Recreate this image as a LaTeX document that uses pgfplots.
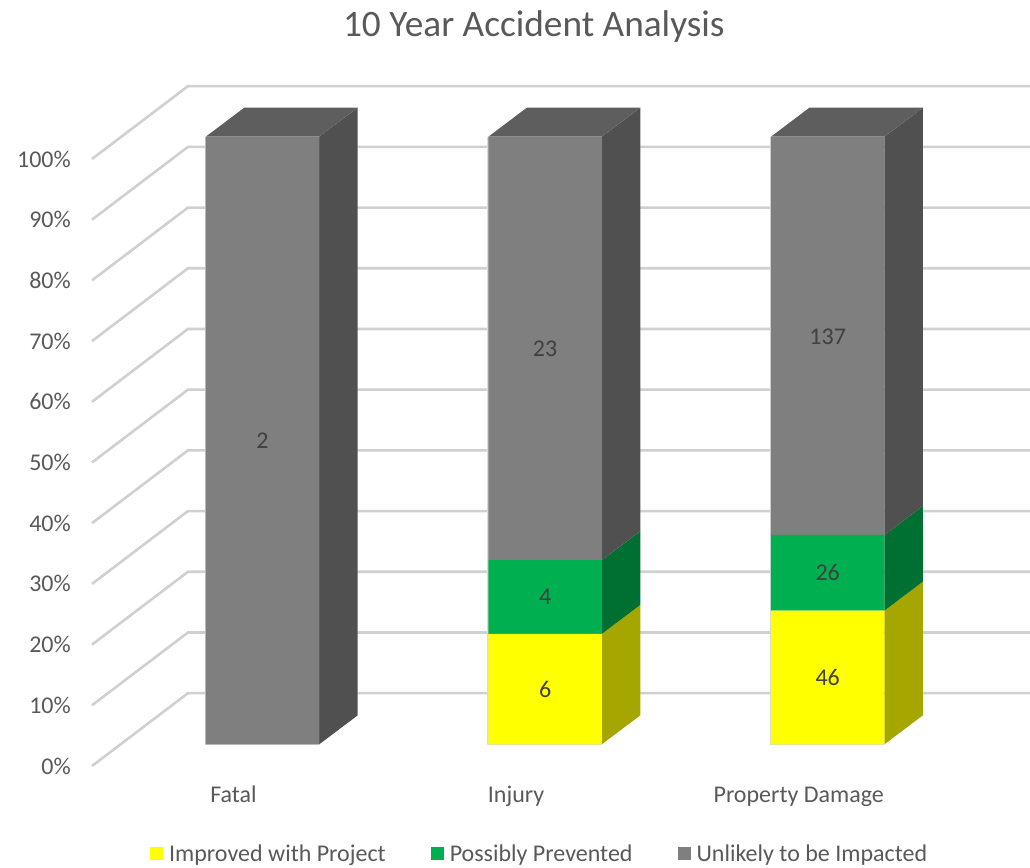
\documentclass[border=0pt]{standalone}
\usepackage{fontspec}
\setmainfont{Carlito}
\usepackage{pgfplots}
\pgfplotsset{compat=1.18}
\definecolor{txt}{HTML}{595959}
\definecolor{lbl}{HTML}{404040}
\definecolor{gridc}{HTML}{D0D0D0}
\definecolor{edgec}{HTML}{DADADA}
\definecolor{yfront}{HTML}{FFFF00}
\definecolor{yside}{HTML}{A6A600}
\definecolor{gfront}{HTML}{00B050}
\definecolor{gside}{HTML}{006F32}
\definecolor{kfront}{HTML}{7F7F7F}
\definecolor{kside}{HTML}{505050}
\definecolor{ktop}{HTML}{5E5E5E}
\pgfplotsset{
  gridbox/.style={scale only axis,width=938pt,height=607pt,at={(92pt,101pt)},anchor=south west,
    xmin=92,xmax=1030,ymin=0,ymax=100,clip=false,axis line style={draw=none},major tick length=0pt},
  barbox/.style={scale only axis,width=938pt,height=607.6pt,at={(92pt,122.7pt)},anchor=south west,
    xmin=-0.6033,xmax=2.7158,ymin=0,ymax=100,clip=false,axis line style={draw=none},major tick length=0pt,
    ytick=\empty},
  gl/.style={gridc,line width=2.6pt,no markers},
  poly/.style={draw=none,fill=#1,no markers},
}
\begin{document}
\begin{tikzpicture}[x=1pt,y=1pt]
\path[use as bounding box] (0,0) rectangle (1030,867);
% gridlines and percent axis
\begin{axis}[gridbox,xtick=\empty,
  ytick={0,10,20,30,40,50,60,70,80,90,100},
  yticklabels={0\%,10\%,20\%,30\%,40\%,50\%,60\%,70\%,80\%,90\%,100\%},
  yticklabel style={font=\fontsize{24}{28}\selectfont,text=txt,anchor=east,inner sep=0pt,xshift=-21pt}]
\addplot[gl] coordinates {(92,0)(188,12)(1030,12)};
\addplot[gl] coordinates {(92,10)(188,22)(1030,22)};
\addplot[gl] coordinates {(92,20)(188,32)(1030,32)};
\addplot[gl] coordinates {(92,30)(188,42)(1030,42)};
\addplot[gl] coordinates {(92,40)(188,52)(1030,52)};
\addplot[gl] coordinates {(92,50)(188,62)(1030,62)};
\addplot[gl] coordinates {(92,60)(188,72)(1030,72)};
\addplot[gl] coordinates {(92,70)(188,82)(1030,82)};
\addplot[gl] coordinates {(92,80)(188,92)(1030,92)};
\addplot[gl] coordinates {(92,90)(188,102)(1030,102)};
\addplot[gl] coordinates {(92,100)(188,112)(1030,112)};
\end{axis}
% side and top faces
\begin{axis}[barbox,xtick=\empty]
% light edge left of and under the front faces
\addplot[draw=edgec,line width=2pt,no markers] coordinates {(0.2008,0)(-0.2008,0)(-0.2008,100)};
\addplot[draw=edgec,line width=2pt,no markers] coordinates {(1.2008,0)(0.7992,0)(0.7992,100)};
\addplot[draw=edgec,line width=2pt,no markers] coordinates {(2.2008,0)(1.7992,0)(1.7992,100)};
% Fatal
\addplot[poly=kside] coordinates {(0.2008,0)(0.3370,4.773)(0.3370,104.773)(0.2008,100)} -- cycle;
\addplot[poly=ktop] coordinates {(-0.2008,100)(-0.0646,104.773)(0.3370,104.773)(0.2008,100)} -- cycle;
% Injury
\addplot[poly=yside] coordinates {(1.2008,0)(1.3370,4.773)(1.3370,22.953)(1.2008,18.18)} -- cycle;
\addplot[poly=gside] coordinates {(1.2008,18.18)(1.3370,22.953)(1.3370,35.073)(1.2008,30.30)} -- cycle;
\addplot[poly=kside] coordinates {(1.2008,30.30)(1.3370,35.073)(1.3370,104.773)(1.2008,100)} -- cycle;
\addplot[poly=ktop] coordinates {(0.7992,100)(0.9354,104.773)(1.3370,104.773)(1.2008,100)} -- cycle;
% Property Damage
\addplot[poly=yside] coordinates {(2.2008,0)(2.3370,4.773)(2.3370,26.783)(2.2008,22.01)} -- cycle;
\addplot[poly=gside] coordinates {(2.2008,22.01)(2.3370,26.783)(2.3370,39.223)(2.2008,34.45)} -- cycle;
\addplot[poly=kside] coordinates {(2.2008,34.45)(2.3370,39.223)(2.3370,104.773)(2.2008,100)} -- cycle;
\addplot[poly=ktop] coordinates {(1.7992,100)(1.9354,104.773)(2.3370,104.773)(2.2008,100)} -- cycle;
\end{axis}
% front faces, categories, legend, title
\begin{axis}[barbox,ybar stacked,bar width=113.5pt,
  xtick={0,1,2},xticklabels={Fatal,Injury,Property Damage},
  xticklabel style={font=\fontsize{24}{28}\selectfont,text=txt,anchor=center,inner sep=0pt,
    text height=16pt,text depth=5pt,xshift=-29pt,yshift=-53pt},
  title={10 Year Accident Analysis},
  title style={at={(0.471,1.1707)},anchor=center,font=\fontsize{37.3}{44}\selectfont,text=txt},
  legend columns=3,
  legend image code/.code={\fill[#1] (0pt,-6.5pt) rectangle (13pt,6.5pt);\path (17pt,0pt);},
  legend style={at={(0.0618,-0.1805)},anchor=west,draw=none,fill=none,inner sep=0pt,
    font=\fontsize{24}{28}\selectfont,text=txt,
    /tikz/every even column/.append style={column sep=43pt}}]
\addplot[fill=yfront,draw=none] coordinates {(0,0)(1,18.18)(2,22.01)};
\addlegendentry{Improved with Project}
\addplot[fill=gfront,draw=none] coordinates {(0,0)(1,12.12)(2,12.44)};
\addlegendentry{Possibly Prevented}
\addplot[fill=kfront,draw=none] coordinates {(0,100)(1,69.70)(2,65.55)};
\addlegendentry{Unlikely to be Impacted}
\end{axis}
% value labels
\begin{axis}[barbox,xtick=\empty,
  every node near coord/.append style={anchor=center,inner sep=0pt,font=\fontsize{24}{28}\selectfont,text=lbl}]
\addplot[only marks,mark=none,nodes near coords,point meta=explicit symbolic] coordinates {
  (0,50) [2]
  (1,9.09) [6]
  (1,24.24) [4]
  (1,65.15) [23]
  (2,11.0) [46]
  (2,28.23) [26]
  (2,67.0) [137]
};
\end{axis}
\end{tikzpicture}
\end{document}
